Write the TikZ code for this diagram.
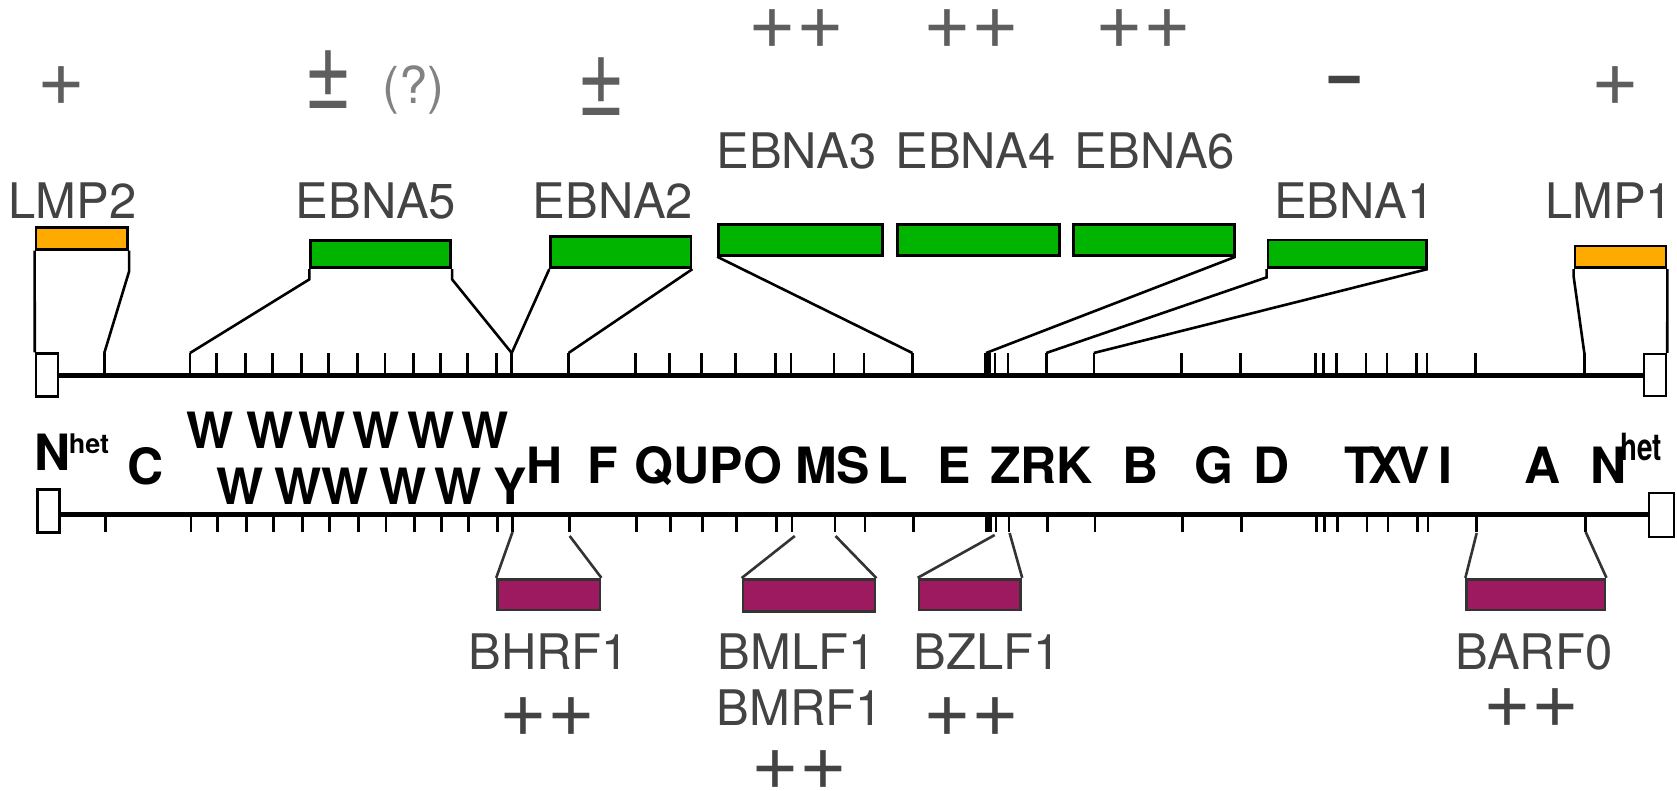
\documentclass[tikz,border=0pt]{standalone}
\usepackage{fontspec}
\setmainfont{TeX Gyre Heros}
\usepackage{graphicx}
\definecolor{lblgray}{RGB}{67,67,67}
\definecolor{symgray}{RGB}{94,94,94}
\definecolor{qgray}{RGB}{130,130,130}
\definecolor{ebnagreen}{RGB}{0,180,0}
\definecolor{lmporange}{RGB}{255,170,0}
\definecolor{lytpurple}{RGB}{158,26,96}
\definecolor{lowline}{RGB}{51,51,51}
\tikzset{
  lbl/.style={text=lblgray, inner sep=0pt, anchor=base, font=\fontsize{49}{56}\selectfont},
  seg/.style={text=black, inner sep=0pt, anchor=base, font=\fontsize{50}{56}\selectfont\bfseries},
  sym/.style={text=symgray, inner sep=0pt, anchor=center, font=\fontsize{82}{82}\selectfont},
  lowsym/.style={sym, text=lblgray},
  sz/.style 2 args={minimum width=#1pt, minimum height=#2pt},
  gbox/.style={draw=black, line width=2.8pt, fill=ebnagreen, inner sep=0pt},
  obox/.style={draw=black, line width=2.8pt, fill=lmporange, inner sep=0pt},
  pbox/.style={draw=lowline, line width=2.8pt, fill=lytpurple, inner sep=0pt},
  termbox/.style={draw=black, line width=2.4pt, fill=white, inner sep=0pt},
  genome/.style={line width=5pt, black},
  tickmark/.style={line width=2.6pt, black},
  upconn/.style={line width=2.6pt, black},
  loconn/.style={line width=2.6pt, lowline},
}
\begin{document}
\begin{tikzpicture}[x=1pt,y=-1pt]
\useasboundingbox[fill=white] (0,0) rectangle (1677,791);

% genome lines
\coordinate (upy) at (0,375);
\coordinate (lowy) at (0,514);
\node[termbox, sz={21.7}{42.7}] (TL) at (46.85,375) {};
\node[termbox, sz={22}{42}] (TR) at (1655,375) {};
\node[termbox, sz={22}{43}] (BL) at (48.3,511) {};
\node[termbox, sz={25}{44}] (BR) at (1661.2,514.7) {};
\draw[genome] (TL.east |- upy) -- (TR.west |- upy);
\draw[genome] (BL.east |- lowy) -- (BR.west |- lowy);

% ticks
\foreach \t in {104.3,190,216.7,245.7,272.7,301.7,328.3,357.7,385,413.3,440.7,467.7,496.7,511.7,568.5,635.2,669.6,701.6,735.5,775.2,791,834,863.9,912.4,985,987.5,990,995,1008,1046.2,1093.8,1181.3,1240.3,1315.3,1323.7,1336.3,1366,1387,1416.3,1427,1475.3,1584.3}{
  \draw[tickmark] (\t,375) -- (\t,353);
  \draw[tickmark] (\t+1,514) -- (\t+1,532);
}

% upper boxes
\node[obox, sz={91.7}{21.6}] (lmp2) at (81.85,238.5) {};
\node[gbox, sz={140}{27}] (ebna5) at (380.7,254.2) {};
\node[gbox, sz={140.3}{31}] (ebna2) at (620.85,252.2) {};
\node[gbox, sz={164}{31}] (ebna3) at (800.5,239.8) {};
\node[gbox, sz={162}{31}] (ebna4) at (978.5,239.8) {};
\node[gbox, sz={160.5}{31}] (ebna6) at (1154,239.8) {};
\node[gbox, sz={158.3}{27.7}] (ebna1) at (1347.2,253.8) {};
\node[obox, sz={91}{21.7}] (lmp1) at (1620.5,256.8) {};

% tick tops used by connectors
\coordinate (u104) at (104.3,353);
\coordinate (u190) at (190,353);
\coordinate (u512) at (511.7,353);
\coordinate (u568) at (568.5,353);
\coordinate (u912) at (912.4,353);
\coordinate (u986) at (986,353);
\coordinate (u1046) at (1046.2,353);
\coordinate (u1094) at (1093.8,353);
\coordinate (u1584) at (1584.3,353);

\draw[upconn] (lmp2.south west) -- (TL.north west);
\draw[upconn] (lmp2.south east) -- ++(0,20.7) -- (u104);
\draw[upconn] (ebna5.south west) -- ++(0,10.3) -- (u190);
\draw[upconn] (ebna5.south east) -- ++(0,10.3) -- (u512);
\draw[upconn] (ebna2.south west) -- (u512);
\draw[upconn] (ebna2.south east) -- (u568);
\draw[upconn] (ebna3.south west) -- (u912);
\draw[upconn] (ebna6.south east) -- (u986);
\draw[upconn] (ebna1.south west) -- ++(0,8.3) -- (u1046);
\draw[upconn] (ebna1.south east) -- (u1094);
\draw[upconn] (lmp1.south west) -- ++(0,7.3) -- (u1584);
\draw[upconn] (lmp1.south east) -- (TR.north east);

% lower boxes
\node[pbox, sz={102.4}{30.7}] (bhrf1) at (548.8,594.6) {};
\node[pbox, sz={132}{32}] (bmlf1) at (809,595.5) {};
\node[pbox, sz={101.8}{30.7}] (bzlf1) at (969.9,594.6) {};
\node[pbox, sz={138.3}{30.7}] (barf0) at (1535.9,594.6) {};

\coordinate (l512) at (512.5,532);
\coordinate (l570) at (569.7,536);
\coordinate (l795) at (794.8,536);
\coordinate (l836) at (835.5,536);
\coordinate (l995) at (994.7,535);
\coordinate (l1010) at (1009.6,533);
\coordinate (l1477) at (1476.7,533);
\coordinate (l1586) at (1585.7,532);
\draw[loconn] (l512) -- (bhrf1.north west);
\draw[loconn] (l570) -- (bhrf1.north east);
\draw[loconn] (l795) -- (bmlf1.north west);
\draw[loconn] (l836) -- (bmlf1.north east);
\draw[loconn] (l995) -- (bzlf1.north west);
\draw[loconn] (l1010) -- (bzlf1.north east);
\draw[loconn] (l1477) -- (barf0.north west);
\draw[loconn] (l1586) -- (barf0.north east);

% upper labels
\node[lbl] (tlmp2) at (72.5,218.3) {LMP2};
\node[lbl] (tebna5) at (376,218.3) {EBNA5};
\node[lbl] (tebna2) at (613,218.3) {EBNA2};
\node[lbl] (tebna3) at (796.6,168.3) {EBNA3};
\node[lbl] (tebna4) at (975.6,168.3) {EBNA4};
\node[lbl] (tebna6) at (1155,168.3) {EBNA6};
\node[lbl] (tebna1) at (1354.3,218.3) {EBNA1};
\node[lbl] (tlmp1) at (1609,218.3) {LMP1};

% lower labels
\node[lbl] (tbhrf1) at (548.8,669) {BHRF1};
\node[lbl] (tbmlf1) at (796.5,669) {BMLF1};
\node[lbl] (tbmrf1) at (799.6,725) {BMRF1};
\node[lbl] (tbzlf1) at (987,669) {BZLF1};
\node[lbl] (tbarf0) at (1534,669) {BARF0};

% symbols top
\node[sym] (s3) at (796,29.2) {++};
\node[sym] (s4) at (971.5,29.2) {++};
\node[sym] (s6) at (1143,29.2) {++};
\node[sym] (sl2) at (61,85.8) {+};
\node[sym] (sl1) at (1615.3,85.8) {+};
\node[sym] (s5) at (328.5,80) {\scalebox{1}[1.3]{±}};
\node[sym] (s2) at (601,86.7) {\scalebox{1}[1.3]{±}};
\node[text=qgray, inner sep=0pt, anchor=base, font=\fontsize{51}{51}\selectfont] (q5) at (413.5,104) {(?)};
\node[text=lblgray, inner sep=0pt, anchor=base, font=\fontsize{55}{55}\selectfont\bfseries] (s1) at (1345,99) {\scalebox{1}[1.3]{–}};

% symbols bottom
\node[lowsym] (sb1) at (547.8,716.7) {++};
\node[lowsym] (sb2) at (799.6,770) {++};
\node[lowsym] (sb3) at (971.3,716.7) {++};
\node[lowsym] (sb4) at (1531,708.3) {++};

% fragment letters
\node[seg, anchor=base west] (nl) at (34.5,470) {N\kern-2pt\raisebox{17pt}{\fontsize{27}{27}\selectfont het}};
\node[seg] (fc) at (145.5,484) {C};
\foreach \x/\n in {210/1,270/2,322/3,376/4,431/5,485/6}{
  \node[seg] (wu\n) at (\x,448.3) {W};
}
\foreach \x/\n in {240/1,298/2,345/3,403/4,458/5}{
  \node[seg] (wl\n) at (\x,504) {W};
}
\node[seg] (fy) at (510,504) {Y};
\node[seg] (fh) at (544.3,483.3) {H};
\node[seg] (ff) at (602.5,483.3) {F};
\node[seg] (fqupo) at (708.5,483.3) {QUPO};
\node[seg] (fms) at (832.5,483.3) {MS};
\node[seg] (fl) at (893,483.3) {L};
\node[seg] (fe) at (954.5,483.3) {E};
\node[seg] (fzrk) at (1041.5,483.3) {ZRK};
\node[seg] (fb) at (1140.5,483.3) {B};
\node[seg] (fg) at (1213.5,483.3) {G};
\node[seg] (fd) at (1272,483.3) {D};
\node[seg] (ft) at (1359.5,483.3) {T};
\node[seg] (fx) at (1385.5,483.3) {X};
\node[seg] (fv) at (1413.5,483.3) {V};
\node[seg] (fi) at (1445.5,483.3) {I};
\node[seg] (fa) at (1543,483.3) {A};
\node[seg, anchor=base west] (nr) at (1590,483.3) {N\kern-6pt\raisebox{23.3pt}{\fontsize{37.5}{37.5}\selectfont\scalebox{0.74}[1]{het}}};
\end{tikzpicture}
\end{document}
